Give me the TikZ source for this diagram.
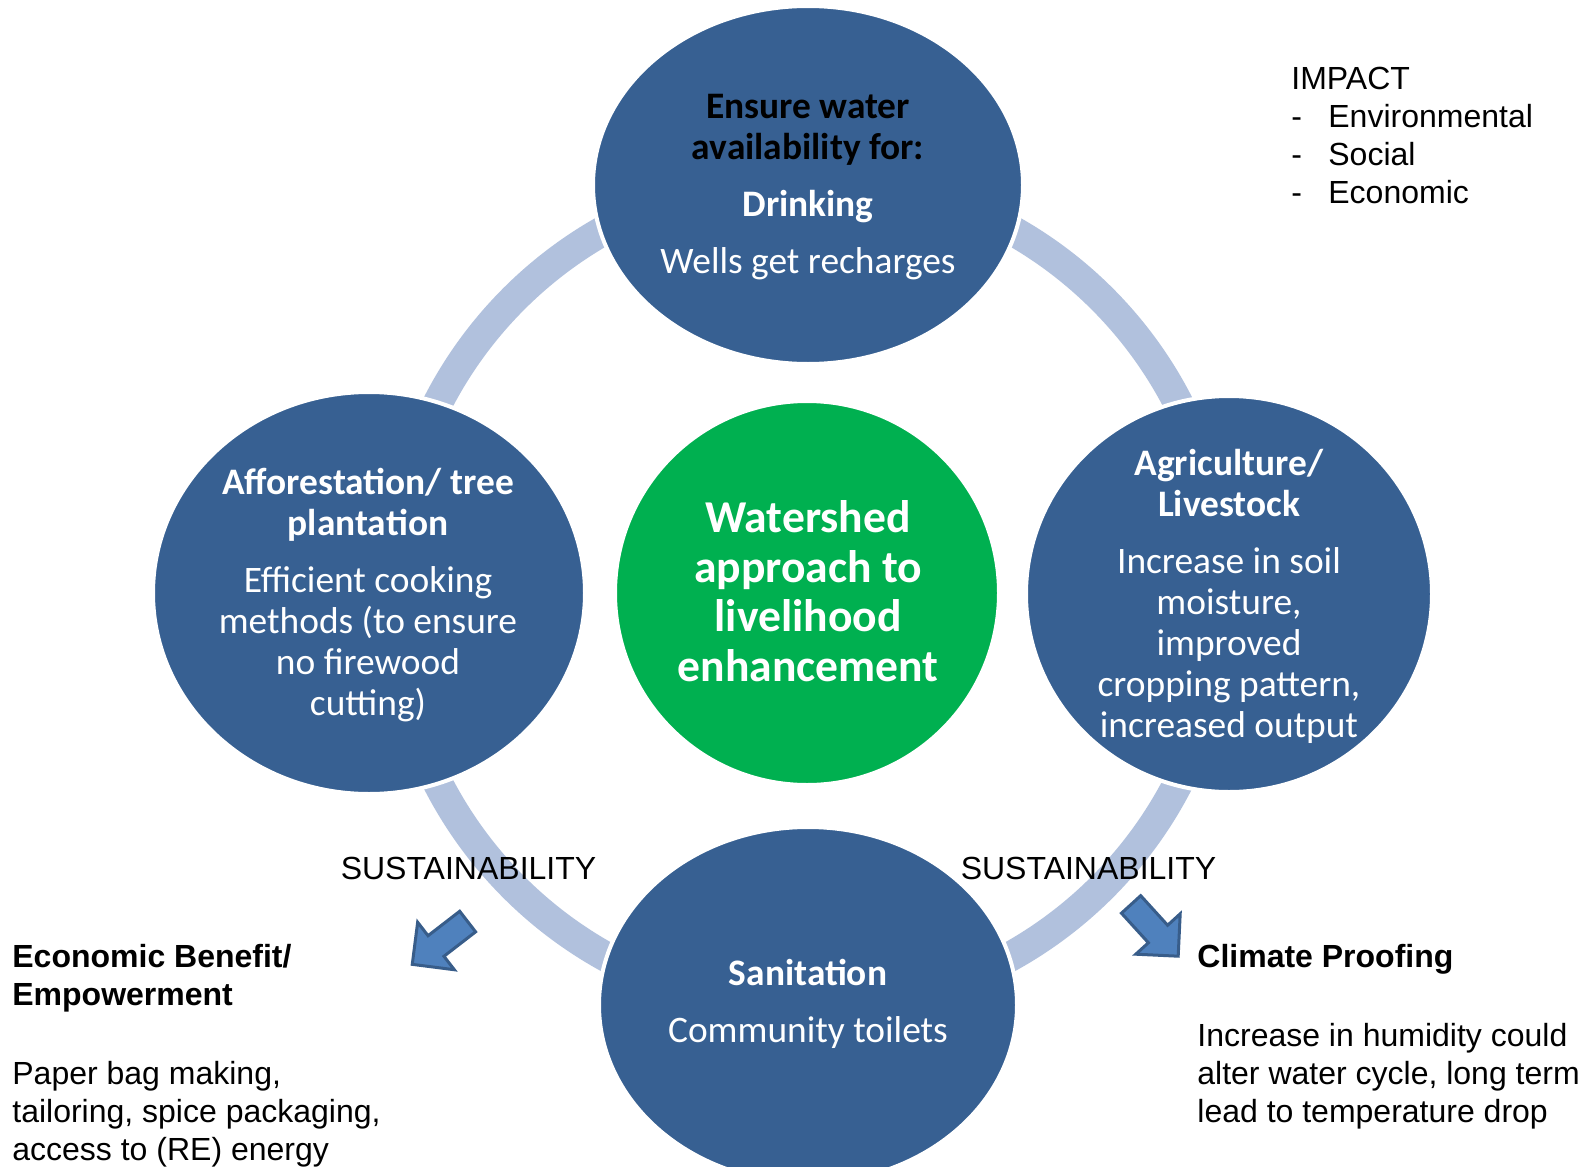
\documentclass[tikz,border=0pt]{standalone}
\usepackage{fontspec}
\setmainfont{Liberation Sans}
\newfontfamily\calibri{Carlito}
\usetikzlibrary{shapes.geometric}
\definecolor{bubbleblue}{HTML}{376092}
\definecolor{hubgreen}{HTML}{00B050}
\definecolor{ringblue}{HTML}{B1C1DD}
\definecolor{arrowfill}{HTML}{4F81BD}
\definecolor{arrowline}{HTML}{385D8A}
\newcommand\impitem[1]{\makebox[18.5pt][l]{-}#1}
\tikzset{
  bubble/.style={ellipse,fill=bubbleblue,draw=white,line width=2pt,inner sep=0pt},
  bubbletext/.style={text=white,align=center,inner sep=0pt,font=\calibri\fontsize{18.7}{20.5}\selectfont},
  hubtext/.style={text=white,align=center,inner sep=0pt,font=\calibri\bfseries\fontsize{22.8}{24.8}\selectfont},
  ringline/.style={circle,draw=ringblue,line width=15pt,inner sep=0pt},
  plain/.style={align=left,inner sep=0pt,font=\fontsize{16}{19}\selectfont},
  blockarrow/.style={fill=arrowfill,draw=arrowline,line width=1.5pt,line join=miter}
}
\begin{document}
\begin{tikzpicture}[x=0.5pt,y=-0.5pt]
\useasboundingbox[fill=white] (0,0) rectangle (1591,1167);
\node[ringline,minimum size=416pt] (ring) at (808,593) {};
\node[bubble,minimum width=215pt,minimum height=179pt] (water) at (808,185) {};
\node[bubble,minimum width=216pt,minimum height=201pt] (forest) at (369,593) {};
\node[bubble,minimum width=203pt,minimum height=198pt] (agri) at (1229,594) {};
\node[bubble,minimum width=209pt,minimum height=178pt] (sanit) at (808,1005) {};
\node[circle,fill=hubgreen,draw=white,line width=2pt,minimum size=192pt] (hub) at (807,593) {};
\node[bubbletext] (watertext) at (808,187) {{\color{black}\bfseries Ensure water}\\{\color{black}\bfseries availability for:}\\[8pt]\textbf{Drinking}\\[8pt]Wells get recharges};
\node[bubbletext] (foresttext) at (368,595) {\textbf{Afforestation/ tree}\\\textbf{plantation}\\[8pt]Efficient cooking\\methods (to ensure\\no firewood\\cutting)};
\node[bubbletext] (agritext) at (1229,596) {\textbf{Agriculture/}\\\textbf{Livestock}\\[8pt]Increase in soil\\moisture,\\improved\\cropping pattern,\\increased output};
\node[bubbletext] (sanittext) at (808,1004) {\textbf{Sanitation}\\[8pt]Community toilets};
\node[hubtext] (hubtext) at (808,591) {Watershed\\approach to\\livelihood\\enhancement};
\foreach \name/\x in {left/468.5,right/1088.5}
  \node[plain] (sust\name) at (\x,868.6) {SUSTAINABILITY};
\coordinate (econhead) at (436,946);
\coordinate (climhead) at (1158,934);
\draw[blockarrow,shift={(econhead)},rotate=217.7] (-40,13) -- (0,13) -- (0,30) -- (30,0) -- (0,-30) -- (0,-13) -- (-40,-13) -- cycle;
\draw[blockarrow,shift={(climhead)},rotate=-47.7] (-40,13) -- (0,13) -- (0,30) -- (30,0) -- (0,-30) -- (0,-13) -- (-40,-13) -- cycle;
\node[plain,anchor=north west] (impact) at (1291,66.7) {IMPACT\\\impitem{Environmental}\\\impitem{Social}\\\impitem{Economic}};
\node[plain,anchor=north west] (econ) at (12,944) {\textbf{Economic Benefit/}\\\textbf{Empowerment}\\[20.5pt]Paper bag making,\\tailoring, spice packaging,\\access to (RE) energy};
\node[plain,anchor=north west] (clim) at (1197,944) {\textbf{Climate Proofing}\\[20.5pt]Increase in humidity could\\alter water cycle, long term\\lead to temperature drop};
\end{tikzpicture}
\end{document}
